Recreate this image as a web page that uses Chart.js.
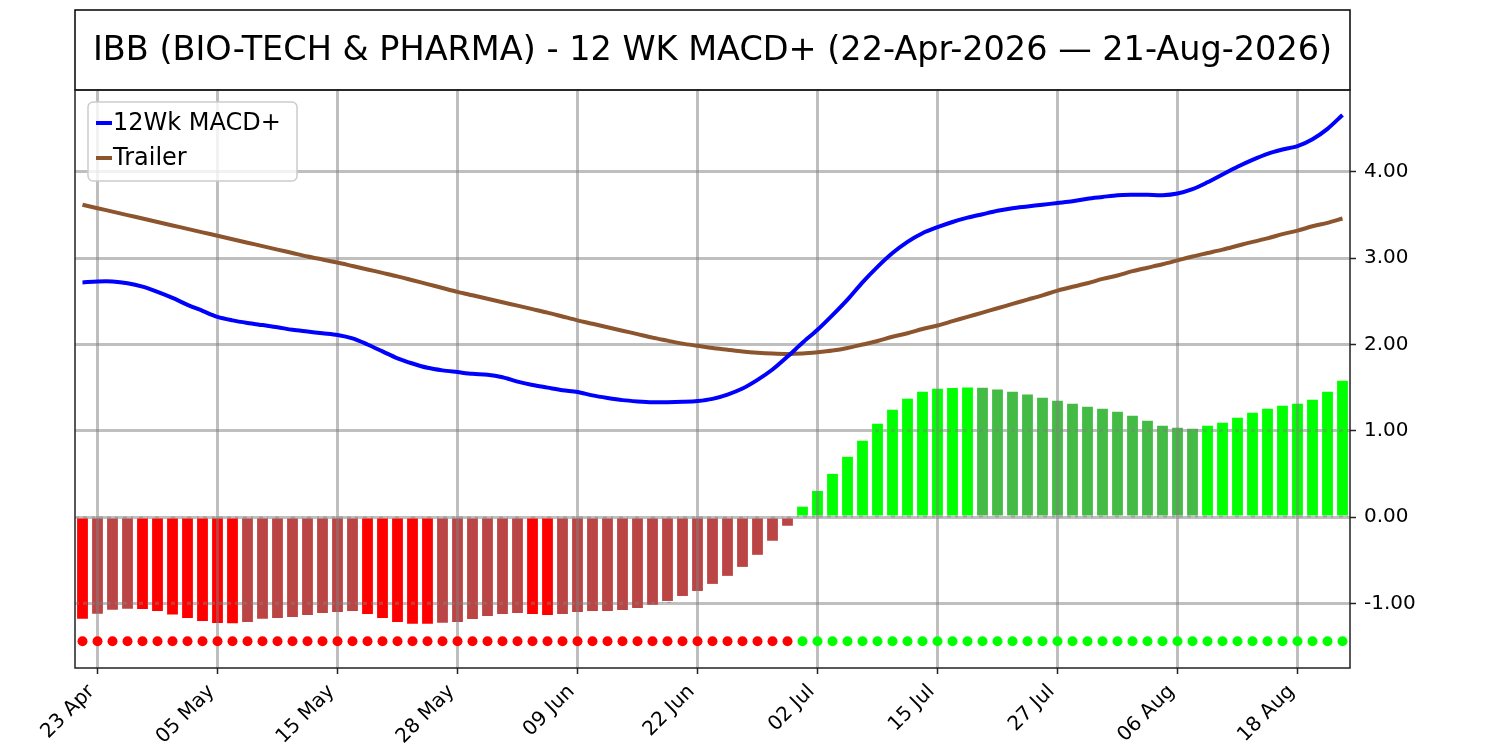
<!DOCTYPE html>
<html>
<head>
<meta charset="utf-8">
<title>IBB 12 WK MACD+</title>
<script src="https://cdn.jsdelivr.net/npm/chart.js@4.4.1/dist/chart.umd.min.js"></script>
<style>
  html, body { margin: 0; padding: 0; background: #fff; }
  #wrap { width: 1500px; height: 750px; }
</style>
</head>
<body>
<div id="wrap"><canvas id="macdChart"></canvas></div>
<script>
// ==============================
// DATA
// ==============================
const chartTitle = 'IBB (BIO-TECH & PHARMA) - 12 WK MACD+ (22-Apr-2026 \u2014 21-Aug-2026)';

const dates = [
    '22 Apr', '23 Apr', '24 Apr', '27 Apr', '28 Apr', '29 Apr', '30 Apr',
    '01 May', '04 May', '05 May', '06 May', '07 May', '08 May', '11 May', '12 May', '13 May', '14 May',
    '15 May', '18 May', '19 May', '20 May', '21 May', '22 May', '26 May', '27 May', '28 May', '29 May',
    '01 Jun', '02 Jun', '03 Jun', '04 Jun', '05 Jun', '08 Jun', '09 Jun', '10 Jun', '11 Jun', '12 Jun',
    '15 Jun', '16 Jun', '17 Jun', '18 Jun', '22 Jun', '23 Jun', '24 Jun', '25 Jun', '26 Jun', '29 Jun', '30 Jun',
    '01 Jul', '02 Jul', '06 Jul', '07 Jul', '08 Jul', '09 Jul', '10 Jul', '13 Jul', '14 Jul', '15 Jul',
    '16 Jul', '17 Jul', '20 Jul', '21 Jul', '22 Jul', '23 Jul', '24 Jul', '27 Jul', '28 Jul', '29 Jul',
    '30 Jul', '31 Jul', '03 Aug', '04 Aug', '05 Aug', '06 Aug', '07 Aug', '10 Aug', '11 Aug', '12 Aug',
    '13 Aug', '14 Aug', '17 Aug', '18 Aug', '19 Aug', '20 Aug', '21 Aug'
];

const xTickLabels = ['23 Apr', '05 May', '15 May', '28 May', '09 Jun', '22 Jun',
                     '02 Jul', '15 Jul', '27 Jul', '06 Aug', '18 Aug'];

const yTicks = [-1, 0, 1, 2, 3, 4];

const macd = [
    2.72, 2.73, 2.73, 2.71, 2.67, 2.61, 2.54, 2.46, 2.39, 2.32,
    2.28, 2.25, 2.225, 2.20, 2.17, 2.15, 2.13, 2.11, 2.07, 2.00,
    1.92, 1.84, 1.78, 1.73, 1.70, 1.68, 1.66, 1.65, 1.62, 1.57,
    1.53, 1.50, 1.47, 1.45, 1.41, 1.38, 1.355, 1.34, 1.33, 1.33,
    1.335, 1.345, 1.37, 1.42, 1.49, 1.59, 1.71, 1.86, 2.02, 2.17,
    2.34, 2.52, 2.72, 2.90, 3.06, 3.19, 3.29, 3.36, 3.42, 3.47,
    3.51, 3.55, 3.58, 3.60, 3.62, 3.64, 3.66, 3.69, 3.71, 3.73,
    3.735, 3.735, 3.73, 3.75, 3.80, 3.88, 3.97, 4.06, 4.14, 4.21,
    4.26, 4.30, 4.38, 4.50, 4.66
];

const trailer = [
    3.62, 3.58, 3.54, 3.50, 3.46, 3.42, 3.38, 3.34, 3.30, 3.26,
    3.22, 3.18, 3.14, 3.10, 3.06, 3.02, 2.985, 2.95, 2.91, 2.87,
    2.83, 2.79, 2.745, 2.70, 2.655, 2.61, 2.57, 2.53, 2.49, 2.45,
    2.41, 2.37, 2.325, 2.28, 2.24, 2.20, 2.16, 2.12, 2.08, 2.045,
    2.01, 1.985, 1.96, 1.94, 1.92, 1.905, 1.895, 1.89, 1.895, 1.91,
    1.93, 1.96, 2.00, 2.04, 2.09, 2.13, 2.18, 2.22, 2.27, 2.32,
    2.37, 2.42, 2.47, 2.52, 2.57, 2.625, 2.67, 2.71, 2.76, 2.80,
    2.85, 2.89, 2.93, 2.975, 3.02, 3.06, 3.10, 3.145, 3.19, 3.23,
    3.28, 3.32, 3.37, 3.41, 3.46
];

const histogram = [
    -1.18, -1.12, -1.074, -1.062, -1.066, -1.089, -1.13, -1.17, -1.205, -1.229,
    -1.232, -1.217, -1.18, -1.17, -1.159, -1.136, -1.112, -1.10, -1.089, -1.124,
    -1.17, -1.217, -1.236, -1.238, -1.225, -1.217, -1.182, -1.147, -1.124, -1.112,
    -1.124, -1.136, -1.124, -1.10, -1.089, -1.088, -1.078, -1.054, -1.016, -0.973,
    -0.915, -0.857, -0.775, -0.682, -0.578, -0.438, -0.275, -0.101, 0.12, 0.302,
    0.50, 0.698, 0.884, 1.081, 1.244, 1.372, 1.453, 1.488, 1.495, 1.502,
    1.50, 1.477, 1.453, 1.419, 1.384, 1.349, 1.314, 1.279, 1.256, 1.221,
    1.174, 1.116, 1.058, 1.035, 1.023, 1.058, 1.093, 1.151, 1.209, 1.256,
    1.291, 1.314, 1.36, 1.453, 1.581
];

// signal dots sit on one row under the histogram
const signalRow = -1.44;

// ==============================
// STYLE
// ==============================
const FONT = '"DejaVu Sans", "Liberation Sans", sans-serif';
const GRID = 'rgba(128, 128, 128, 0.5)';
const BLUE = '#0000ff';
const BROWN = '#8c552e';
const RED = '#ff0000';
const DARK_RED = '#bb4444';
const GREEN = '#00ff00';
const DARK_GREEN = '#44bb44';

function histColors() {
    return histogram.map((v, i) => {
        const rising = i === 0 ? v >= 0 : v > histogram[i - 1];
        if (v < 0) return rising ? DARK_RED : RED;
        return rising ? GREEN : DARK_GREEN;
    });
}

function signalColors() {
    return histogram.map(v => (v >= 0 ? GREEN : RED));
}

const isTick = i => xTickLabels.includes(dates[i]);

// vertical grid + dashed horizontal grid drawn over the bars, under the lines
const gridOverBars = {
    id: 'gridOverBars',
    afterDatasetDraw(chart, args) {
        if (args.meta.type !== 'bar') return;
        const { ctx, chartArea: a, scales } = chart;
        const bars = args.meta.data;
        ctx.save();
        ctx.beginPath();
        ctx.rect(a.left, a.top, a.width, a.height);
        ctx.clip();
        ctx.strokeStyle = GRID;
        ctx.lineWidth = 3;
        bars.forEach((bar, i) => {
            if (!isTick(i)) return;
            ctx.beginPath();
            ctx.moveTo(bar.x, a.top);
            ctx.lineTo(bar.x, a.bottom);
            ctx.stroke();
        });
        ctx.beginPath();
        bars.forEach(bar => {
            const p = bar.getProps(['x', 'y', 'base', 'width'], true);
            ctx.rect(p.x - p.width / 2, Math.min(p.y, p.base) - 2, p.width, Math.abs(p.y - p.base) + 4);
        });
        ctx.clip();
        ctx.setLineDash([4, 4]);
        yTicks.forEach(v => {
            const py = scales.y.getPixelForValue(v);
            ctx.beginPath();
            ctx.moveTo(a.left, py);
            ctx.lineTo(a.right, py);
            ctx.stroke();
        });
        ctx.restore();
    }
};

// legend box in the upper left of the plot
const legendBox = {
    id: 'legendBox',
    afterDatasetsDraw(chart) {
        const { ctx, chartArea: a } = chart;
        const x = a.left + 13, y = a.top + 12, w = 209, h = 79;
        ctx.save();
        ctx.beginPath();
        ctx.roundRect(x, y, w, h, 5);
        ctx.fillStyle = 'rgba(255, 255, 255, 0.8)';
        ctx.fill();
        ctx.strokeStyle = '#cccccc';
        ctx.lineWidth = 1.5;
        ctx.stroke();
        const items = chart.data.datasets.filter(ds => ds.inLegend);
        ctx.font = '24px ' + FONT;
        ctx.textBaseline = 'middle';
        ctx.fillStyle = '#000';
        items.forEach((ds, k) => {
            const ly = y + 21 + k * 35;
            ctx.strokeStyle = ds.borderColor;
            ctx.lineWidth = 4;
            ctx.beginPath();
            ctx.moveTo(x + 8, ly);
            ctx.lineTo(x + 24, ly);
            ctx.stroke();
            ctx.fillText(ds.label, x + 25, ly + 1);
        });
        ctx.restore();
    }
};

// title box on top of the plot + frame around the plot
const frameAndTitle = {
    id: 'frameAndTitle',
    afterDraw(chart) {
        const { ctx, chartArea: a } = chart;
        ctx.save();
        ctx.strokeStyle = '#000';
        ctx.lineWidth = 1.5;
        ctx.strokeRect(a.left, 10, a.width, a.top - 10);
        ctx.strokeStyle = '#222';
        ctx.strokeRect(a.left, a.top, a.width, a.height);
        ctx.fillStyle = '#000';
        ctx.font = '33.5px ' + FONT;
        ctx.textAlign = 'center';
        ctx.textBaseline = 'middle';
        ctx.fillText(chartTitle, (a.left + a.right) / 2, (10 + a.top) / 2 + 1);
        ctx.restore();
    }
};

document.addEventListener('DOMContentLoaded', function() {
    const ctx = document.getElementById('macdChart');
    const dotColors = signalColors();

    new Chart(ctx, {
        type: 'bar',
        data: {
            labels: dates,
            datasets: [
                {
                    type: 'line',
                    label: '12Wk MACD+',
                    inLegend: true,
                    data: macd,
                    borderColor: BLUE,
                    borderWidth: 4,
                    pointRadius: 0,
                    tension: 0.3,
                    order: 0
                },
                {
                    type: 'line',
                    label: 'Trailer',
                    inLegend: true,
                    data: trailer,
                    borderColor: BROWN,
                    borderWidth: 4,
                    pointRadius: 0,
                    tension: 0.3,
                    order: 1
                },
                {
                    type: 'line',
                    label: 'Signal',
                    data: dates.map(() => signalRow),
                    showLine: false,
                    pointRadius: 5,
                    pointBackgroundColor: dotColors,
                    pointBorderColor: dotColors,
                    pointBorderWidth: 0,
                    order: 2
                },
                {
                    type: 'bar',
                    label: 'Histogram',
                    data: histogram,
                    backgroundColor: histColors(),
                    barPercentage: 0.72,
                    categoryPercentage: 1.0,
                    order: 3
                }
            ]
        },
        options: {
            responsive: true,
            maintainAspectRatio: false,
            animation: false,
            layout: { padding: { left: 75, top: 90, right: 0, bottom: 0 } },
            plugins: {
                legend: { display: false },
                title: { display: false },
                tooltip: { enabled: false }
            },
            scales: {
                x: {
                    border: { display: false },
                    grid: {
                        offset: false,
                        color: 'rgba(0,0,0,0)',
                        tickColor: c => (isTick(c.index) ? '#222' : 'rgba(0,0,0,0)'),
                        tickLength: 6,
                        tickWidth: 1.5
                    },
                    ticks: {
                        autoSkip: false,
                        minRotation: 45,
                        maxRotation: 45,
                        padding: 6,
                        labelOffset: -6,
                        color: '#000',
                        font: { family: FONT, size: 20 },
                        callback: (v, i) => (isTick(i) ? dates[i] : '')
                    },
                    afterFit: s => { s.height = 82; }
                },
                y: {
                    position: 'right',
                    min: -1.75,
                    max: 4.95,
                    border: { display: false },
                    afterBuildTicks: s => { s.ticks = yTicks.map(v => ({ value: v })); },
                    grid: {
                        color: GRID,
                        lineWidth: 3,
                        tickColor: '#222',
                        tickLength: 6,
                        tickWidth: 1.5
                    },
                    ticks: {
                        padding: 8,
                        color: '#000',
                        font: { family: FONT, size: 20 },
                        callback: v => Number(v).toFixed(2)
                    },
                    afterFit: s => { s.width = 150; }
                }
            }
        },
        plugins: [gridOverBars, legendBox, frameAndTitle]
    });
});
</script>
</body>
</html>
